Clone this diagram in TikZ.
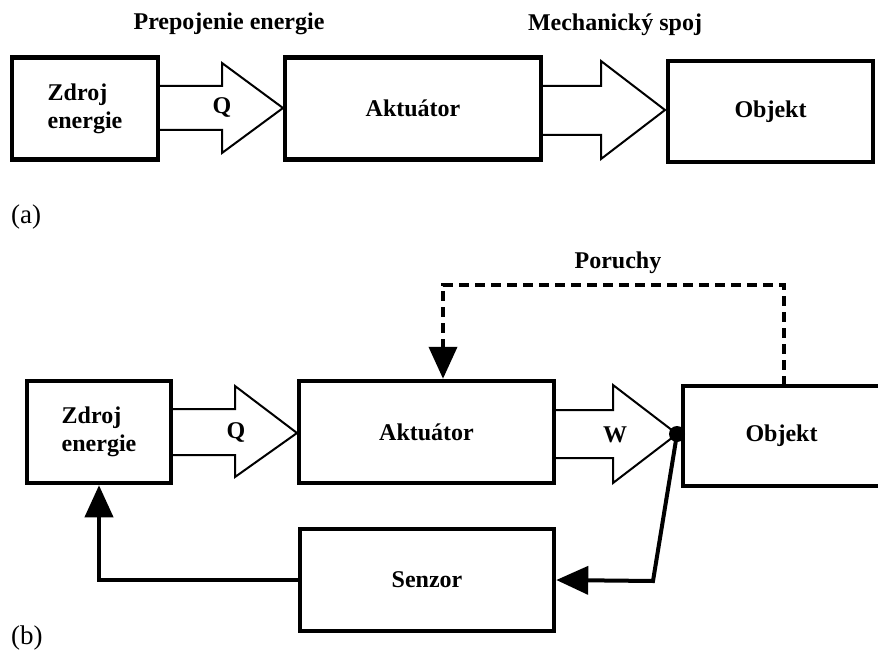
\documentclass[tikz,border=0pt]{standalone}
\usepackage{fontspec}
\setmainfont{Liberation Serif}
\usetikzlibrary{arrows.meta,calc}
\begin{document}
\begin{tikzpicture}[x=1pt,y=-1pt,
  blockbox/.style={draw, line width=4.5pt, minimum width=#1, minimum height=102pt, inner sep=0pt, font=\bfseries\fontsize{24}{28}\selectfont},
  lbl/.style={font=\bfseries\fontsize{24}{28}\selectfont, inner sep=0pt},
  fat/.style={draw, line width=2pt, line join=miter},
  sig/.style={line width=4pt, -{Triangle[length=32pt,width=28pt]}},
  dis/.style={line width=4pt, dash pattern=on 10pt off 6pt, -{Triangle[length=32pt,width=28pt]}},
  tag/.style={font=\fontsize{27}{30}\selectfont, inner sep=0pt, anchor=west}]
\useasboundingbox (0,0) rectangle (878,652);

% ---------- (a) open chain ----------
% energy coupling and mechanical link (drawn under the blocks)
\draw[fat] (158,86) -- (222,86) -- (222,63) -- (283,108) -- (222,153) -- (222,130) -- (158,130);
\draw[fat] (541,86) -- (601,86) -- (601,61) -- (665,110) -- (601,159) -- (601,135) -- (541,135);

\node[blockbox=146pt, align=left] (za) at (85,108.5) {Zdroj\\energie};
\node[blockbox=256pt] (aa) at (413,108.5) {Aktuátor};
\node[blockbox=205pt, minimum height=101pt] (oa) at (770.5,111.5) {Objekt};
\node[lbl] (qa) at (222,108) {Q};

\node[lbl] (pe) at (229,24) {Prepojenie energie};
\node[lbl] (ms) at (615,25) {Mechanický spoj};
\node[tag] (ta) at (11,217) {(a)};

% ---------- (b) closed loop ----------
% energy flow Q and work W
\draw[fat] (171,409) -- (235,409) -- (235,386) -- (297,433) -- (235,477) -- (235,455) -- (171,455);
\draw[fat] (554,410) -- (613,410) -- (613,385) -- (677,434) -- (613,483) -- (613,458) -- (554,458);

\node[blockbox=144pt, align=left] (zb) at (99,432) {Zdroj\\energie};
\node[blockbox=255pt] (ab) at (426.5,432) {Aktuátor};
\node[blockbox=254pt] (sz) at (427,580) {Senzor};
\node[lbl, minimum width=197pt, minimum height=100pt] (ob) at (781.5,436) {Objekt};
\draw[line width=4.5pt] (ob.north east) -- (ob.north west) -- (ob.south west) -- (ob.south east);

\node[lbl] (qb) at (236,432) {Q};
\node[lbl] (wb) at (615,435) {W};
\node[circle, fill, inner sep=0pt, minimum size=16pt] (dot) at (677,434) {};

% measurement and feedback
\coordinate (bend) at (653,581);
\draw[sig] (dot.center) -- (bend) -- (sz.east);
\draw[sig] (sz.west) -| (zb.south);

% disturbances
\coordinate (pr) at (784,285);
\coordinate (pl) at (443,285);
\draw[dis] (pr |- ob.north) -- (pr) -- (pl) -- (pl |- ab.north);
\node[lbl] (po) at (618,263) {Poruchy};

\node[tag] (tb) at (11,638) {(b)};
\end{tikzpicture}
\end{document}
